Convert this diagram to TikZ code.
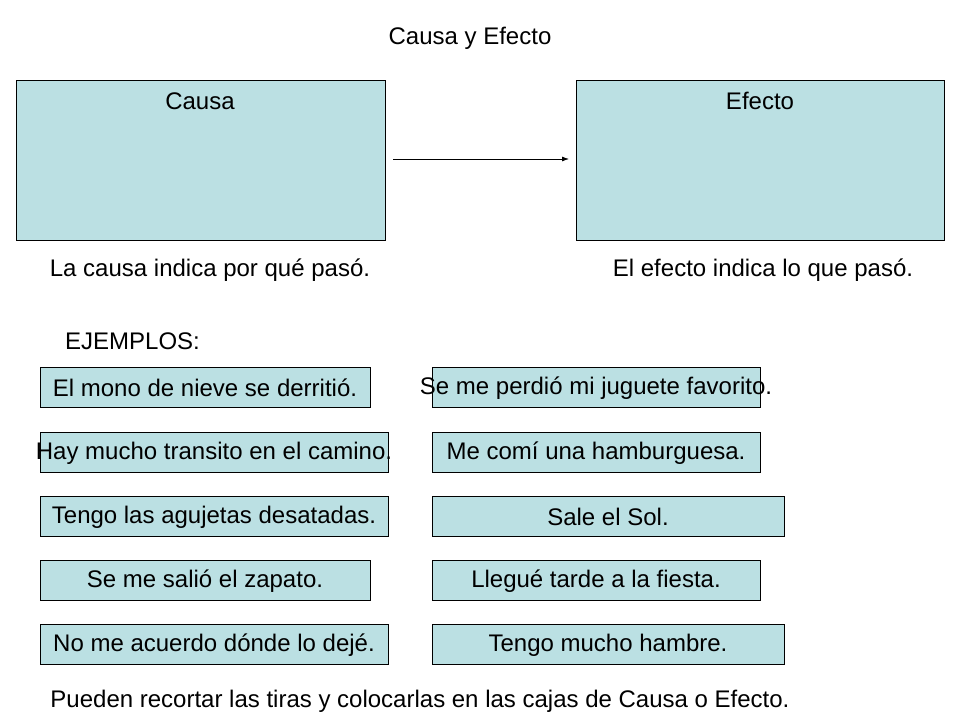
\documentclass[tikz,border=0pt]{standalone}
\usepackage{fontspec}
\setmainfont{Liberation Sans}
\usetikzlibrary{arrows.meta}
\definecolor{boxfill}{HTML}{BBE0E3}
\begin{document}
\begin{tikzpicture}[x=1pt,y=-1pt,
  bigbox/.style={draw=black,fill=boxfill,line width=0.8pt},
  strip/.style={draw=black,fill=boxfill,line width=0.8pt},
  txt/.style={font=\fontsize{24}{26}\selectfont,inner sep=0pt}]
\useasboundingbox (0,0) rectangle (960,720);
\draw[bigbox] (16,80) rectangle (385,240);
\draw[bigbox] (576,80) rectangle (944,240);
\node[txt] (title) at (470,38) {Causa y Efecto};
\node[txt] (causa) at (200,101) {Causa};
\node[txt] (efecto) at (760,101) {Efecto};
\coordinate (a1) at (393,159);
\coordinate (a2) at (569,159);
\draw[-{Latex[length=7pt,width=5pt]},line width=0.8pt] (a1) -- (a2);
\node[txt] (c1) at (210,270) {La causa indica por qué pasó.};
\node[txt] (e1) at (763,270) {El efecto indica lo que pasó.};
\node[txt,anchor=west] (ej) at (65,341) {EJEMPLOS:};
\foreach \y/\lw/\rw in {367/370/760, 432/388/760, 496/388/784, 560/370/760, 624/388/784}{
  \draw[strip] (40,\y) rectangle (\lw,\y+40);
  \draw[strip] (432,\y) rectangle (\rw,\y+40);
}
\node[txt] (l1) at (205,388) {El mono de nieve se derritió.};
\node[txt] (r1) at (596,388) {Se me perdió mi juguete favorito.};
\node[txt] (l2) at (214,453) {Hay mucho transito en el camino.};
\node[txt] (r2) at (596,453) {Me comí una hamburguesa.};
\node[txt] (l3) at (214,517) {Tengo las agujetas desatadas.};
\node[txt] (r3) at (608,517) {Sale el Sol.};
\node[txt] (l4) at (205,581) {Se me salió el zapato.};
\node[txt] (r4) at (596,581) {Llegué tarde a la fiesta.};
\node[txt] (l5) at (214,645) {No me acuerdo dónde lo dejé.};
\node[txt] (r5) at (608,645) {Tengo mucho hambre.};
\node[txt] (foot) at (420,701) {Pueden recortar las tiras y colocarlas en las cajas de Causa o Efecto.};
\end{tikzpicture}
\end{document}
